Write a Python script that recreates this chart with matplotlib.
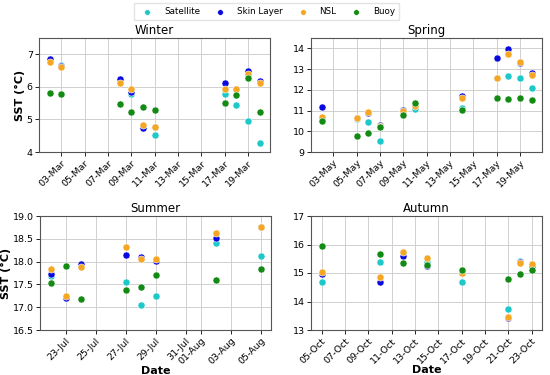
import numpy as np
import matplotlib.pyplot as plt
import matplotlib.dates as mdates
from datetime import datetime

# 各季节的日期和四种 SST 数据
winter_dates = ["2021-03-02", "2021-03-03", "2021-03-08", "2021-03-09", "2021-03-10",
                "2021-03-11", "2021-03-17", "2021-03-18", "2021-03-19", "2021-03-20"]
winter_sat = [6.87, 6.67, 6.15, 5.78, 4.75, 4.52, 5.78, 5.43, 4.96, 4.27]
winter_skin = [6.85, 6.63, 6.25, 5.85, 4.73, 4.78, 6.12, 5.93, 6.49, 6.18]
winter_nsl = [6.77, 6.60, 6.12, 5.93, 4.84, 4.78, 5.92, 5.93, 6.40, 6.12]
winter_buoy = [5.80, 5.78, 5.46, 5.22, 5.37, 5.30, 5.50, 5.75, 6.26, 5.22]

spring_dates = ["2021-05-02", "2021-05-05", "2021-05-06", "2021-05-07", "2021-05-09",
                "2021-05-10", "2021-05-14", "2021-05-17", "2021-05-18", "2021-05-19",
                "2021-05-20"]
spring_sat = [10.60, 10.60, 10.45, 9.55, 11.00, 11.08, 11.12, 12.55, 12.68, 12.58, 12.07]
spring_skin = [11.18, 10.62, 10.90, 10.30, 11.05, 11.25, 11.70, 13.55, 13.98, 13.30, 12.80]
spring_nsl = [10.68, 10.65, 10.92, 10.25, 11.00, 11.20, 11.60, 12.55, 13.75, 13.35, 12.72]
spring_buoy = [10.50, 9.78, 9.92, 10.20, 10.80, 11.38, 11.02, 11.62, 11.55, 11.60, 11.50]

summer_dates = ["2021-07-22", "2021-07-23", "2021-07-24", "2021-07-27", "2021-07-28",
                "2021-07-29", "2021-08-02", "2021-08-05"]
summer_sat = [17.68, 17.22, 17.92, 17.56, 17.05, 17.25, 18.40, 18.13]
summer_skin = [17.73, 17.20, 17.95, 18.15, 18.11, 18.02, 18.52, 18.75]
summer_nsl = [17.83, 17.25, 17.88, 18.33, 18.05, 18.05, 18.62, 18.75]
summer_buoy = [17.53, 17.91, 17.19, 17.37, 17.44, 17.70, 17.60, 17.84]

autumn_dates = ["2021-10-05", "2021-10-10", "2021-10-12", "2021-10-14", "2021-10-17",
                "2021-10-21", "2021-10-22", "2021-10-23"]
autumn_sat = [14.70, 15.40, 15.70, 15.38, 14.70, 13.73, 15.42, 15.30]
autumn_skin = [14.98, 14.67, 15.58, 15.25, 15.00, 13.42, 15.38, 15.25]
autumn_nsl = [15.03, 14.86, 15.75, 15.53, 15.00, 13.47, 15.36, 15.33]
autumn_buoy = [15.95, 15.65, 15.36, 15.28, 15.10, 14.80, 14.97, 15.09]

seasons = ["Winter", "Spring", "Summer", "Autumn"]
ylims = [(4, 7.5), (9, 14.5), (16.5, 19.0), (13, 17)]
yticks = [[4, 5, 6, 7], [9, 10, 11, 12, 13, 14],
          [16.5, 17.0, 17.5, 18.0, 18.5, 19.0], [13, 14, 15, 16, 17]]

names = ["Satellite", "Skin Layer", "NSL", "Buoy"]
colors = ["#1ec8c8", "#0a0ae0", "#f5a623", "#138a13"]

data = [
    (winter_dates, [winter_sat, winter_skin, winter_nsl, winter_buoy]),
    (spring_dates, [spring_sat, spring_skin, spring_nsl, spring_buoy]),
    (summer_dates, [summer_sat, summer_skin, summer_nsl, summer_buoy]),
    (autumn_dates, [autumn_sat, autumn_skin, autumn_nsl, autumn_buoy]),
]

fig = plt.figure(figsize=(5.5, 3.75), dpi=100)
W, H = 550, 375
boxes = [(39, 38), (311, 38), (40, 216), (311, 216)]
aw, ah = 231, 114

for i, (dates, series) in enumerate(data):
    x0, y0 = boxes[i]
    ax = fig.add_axes([x0 / W, 1 - (y0 + ah) / H, aw / W, ah / H])
    x = [datetime.strptime(d, "%Y-%m-%d") for d in dates]
    for vals, c, n in zip(series, colors, names):
        ax.scatter(x, vals, s=26, color=c, edgecolor="white", linewidth=0.4,
                   label=n, zorder=3)
    ax.set_title(seasons[i], fontsize=8.5, pad=3)
    ax.set_ylim(*ylims[i])
    ax.set_yticks(yticks[i])
    if i == 2:
        ax.set_yticklabels([f"{v:.1f}" for v in yticks[i]])
    ax.xaxis.set_major_locator(mdates.DayLocator(bymonthday=range(1, 32, 2)))
    ax.xaxis.set_major_formatter(mdates.DateFormatter("%d-%b"))
    ax.tick_params(axis="both", labelsize=6.8, length=3, width=0.6, pad=1.5)
    plt.setp(ax.get_xticklabels(), rotation=45, ha="right", rotation_mode="anchor")
    ax.grid(True, color="#d0d0d0", linewidth=0.7)
    ax.set_axisbelow(True)
    for sp in ax.spines.values():
        sp.set_color("#555555")
        sp.set_linewidth(0.8)
    if i % 2 == 0:
        ax.set_ylabel("SST (°C)", fontsize=8, fontweight="bold", labelpad=1)
    if i >= 2:
        ax.set_xlabel("Date", fontsize=8, fontweight="bold", labelpad=0)
    if i == 0:
        handles, labels = ax.get_legend_handles_labels()

fig.legend(handles, labels, loc="upper center", bbox_to_anchor=(0.485, 1.005),
           ncol=4, fontsize=6.3, frameon=True, edgecolor="#dddddd",
           fancybox=False, columnspacing=1.3, handletextpad=0.9,
           markerscale=0.8, borderpad=0.5)

fig.savefig("out.png", dpi=100)
